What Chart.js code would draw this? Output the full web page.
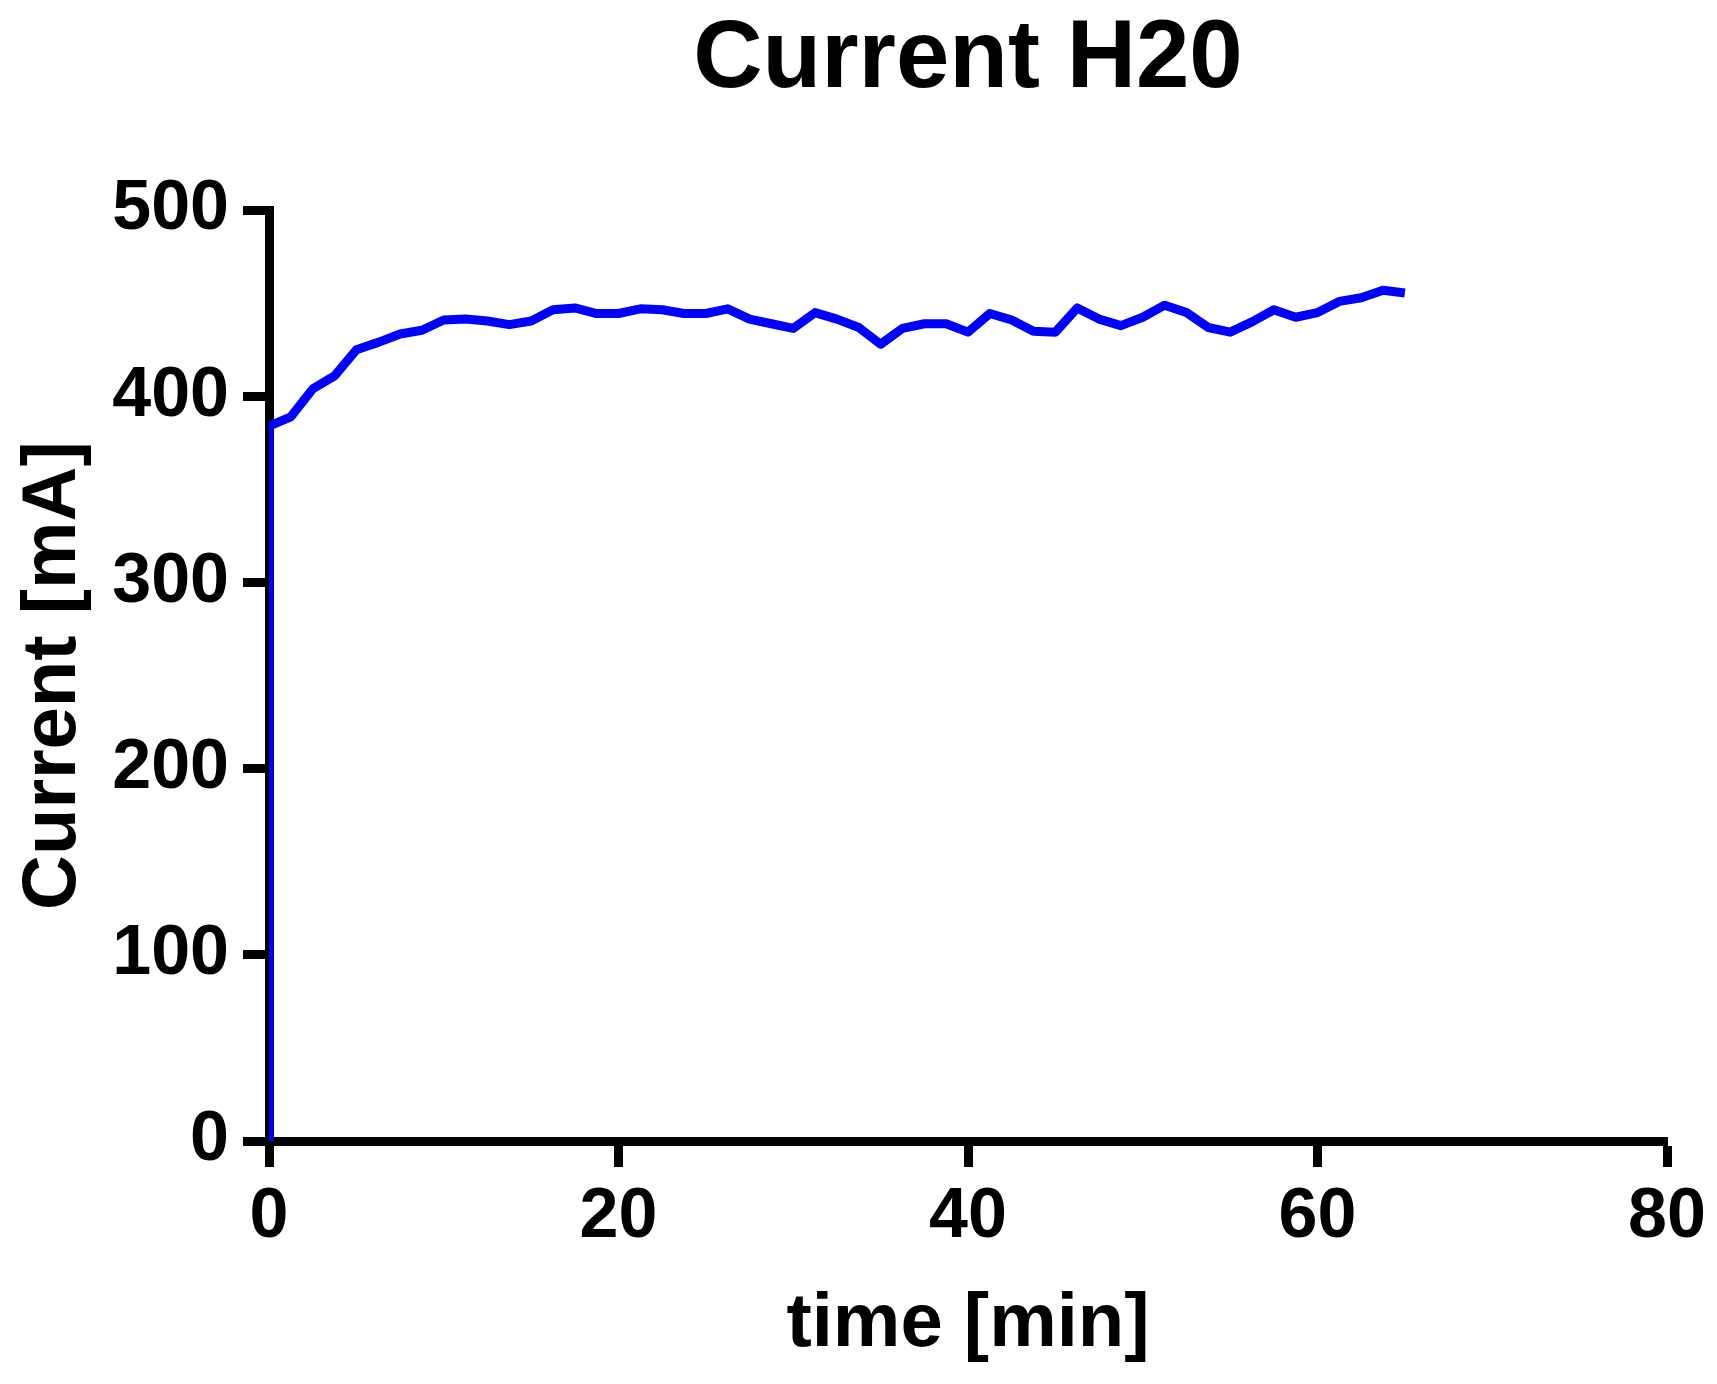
<!DOCTYPE html>
<html lang="en">
<head>
    <meta charset="UTF-8">
    <title>Current H20</title>
    <style>
        body {
            margin: 0;
            background: #fff;
        }

        #currentChart {
            display: block;
        }
    </style>
    <script src="https://cdn.jsdelivr.net/npm/chart.js"></script>
</head>
<body>
    <canvas id="currentChart" width="1717" height="1384"></canvas>

    <script>
        // time in minutes (sampled every 1.25 min), current in mA
        const timeMin = [
            0, 0, 1.25, 2.5, 3.75, 5, 6.25, 7.5, 8.75, 10,
            11.25, 12.5, 13.75, 15, 16.25, 17.5, 18.75, 20, 21.25, 22.5,
            23.75, 25, 26.25, 27.5, 28.75, 30, 31.25, 32.5, 33.75, 35,
            36.25, 37.5, 38.75, 40, 41.25, 42.5, 43.75, 45, 46.25, 47.5,
            48.75, 50, 51.25, 52.5, 53.75, 55, 56.25, 57.5, 58.75, 60,
            61.25, 62.5, 63.75, 65
        ];
        const currentMA = [
            0, 384, 389, 404, 411, 425, 429, 433.5, 435.5, 441,
            441.5, 440.5, 438.5, 440.5, 446.5, 447.5, 444.5, 444.5, 447, 446.5,
            444.5, 444.5, 447, 441.5, 439, 436.5, 445, 441.5, 437, 428,
            436.5, 439, 439, 434.5, 444.5, 441, 435, 434.5, 447.5, 441.5,
            438, 442.5, 449, 445, 437, 434.5, 440, 446.5, 442.5, 445,
            451, 453, 457, 455.5
        ];
        const xTicks = [0, 20, 40, 60, 80];
        const yTicks = [0, 100, 200, 300, 400, 500];

        const fontFamily = "'Liberation Sans', Arial, Helvetica, sans-serif";

        const points = timeMin.map((t, i) => ({ x: t, y: currentMA[i] }));

        const ctx = document.getElementById('currentChart').getContext('2d');
        new Chart(ctx, {
            type: 'line',
            data: {
                datasets: [{
                    label: 'Current H20',
                    data: points,
                    borderColor: '#0000ff',
                    borderWidth: 9,
                    borderJoinStyle: 'round',
                    borderCapStyle: 'butt',
                    pointRadius: 0,
                    tension: 0,
                    fill: false
                }]
            },
            options: {
                responsive: false,
                animation: false,
                layout: {
                    padding: { left: 0, right: 50, top: 0, bottom: 0 }
                },
                plugins: {
                    legend: { display: false },
                    tooltip: { enabled: false },
                    title: {
                        display: true,
                        text: 'Current H20',
                        fullSize: false,
                        color: '#000',
                        font: { family: fontFamily, size: 96, weight: 'bold' },
                        padding: { top: 3, bottom: 92 }
                    }
                },
                scales: {
                    x: {
                        type: 'linear',
                        min: 0,
                        max: 80,
                        afterBuildTicks: scale => {
                            scale.ticks = xTicks.map(v => ({ value: v }));
                        },
                        afterFit: scale => {
                            scale.height = 243;
                        },
                        grid: {
                            drawOnChartArea: false,
                            drawTicks: true,
                            tickLength: 26,
                            tickWidth: 9,
                            tickColor: '#000'
                        },
                        border: { display: true, color: '#000', width: 9 },
                        ticks: {
                            color: '#000',
                            padding: 9,
                            maxRotation: 0,
                            font: { family: fontFamily, size: 70, weight: 'bold' }
                        },
                        title: {
                            display: true,
                            text: 'time [min]',
                            color: '#000',
                            font: { family: fontFamily, size: 76, weight: 'bold' },
                            padding: { top: 0, bottom: 13 }
                        }
                    },
                    y: {
                        min: 0,
                        max: 500,
                        afterBuildTicks: scale => {
                            scale.ticks = yTicks.map(v => ({ value: v }));
                        },
                        afterFit: scale => {
                            scale.width = 269;
                        },
                        grid: {
                            drawOnChartArea: false,
                            drawTicks: true,
                            tickLength: 26,
                            tickWidth: 9,
                            tickColor: '#000'
                        },
                        border: { display: true, color: '#000', width: 9 },
                        ticks: {
                            color: '#000',
                            padding: 14,
                            font: { family: fontFamily, size: 70, weight: 'bold' }
                        },
                        title: {
                            display: true,
                            text: 'Current [mA]',
                            color: '#000',
                            font: { family: fontFamily, size: 76, weight: 'bold' },
                            padding: { top: 8, bottom: 0 }
                        }
                    }
                }
            }
        });
    </script>
</body>
</html>
